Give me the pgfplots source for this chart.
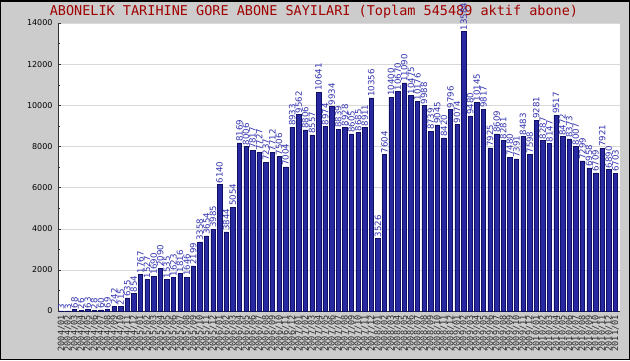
\documentclass[border=0pt]{standalone}
\usepackage{fontspec}
\setmainfont{DejaVu Sans}
\newfontfamily\monof{DejaVu Sans Mono}
\usepackage{pgfplots}
\pgfplotsset{compat=1.18}
\usetikzlibrary{backgrounds,calc}
\definecolor{bg}{RGB}{204,204,204}
\definecolor{barfill}{RGB}{40,40,160}
\definecolor{baredge}{RGB}{15,15,100}
\definecolor{lblblue}{RGB}{50,50,175}
\definecolor{titlered}{RGB}{160,0,0}
\begin{document}
\begin{tikzpicture}
\begin{axis}[name=ax, scale only axis,
  width=562pt, height=288pt,
  xmin=-0.5, xmax=84.7, ymin=0, ymax=14000,
  enlargelimits=false, clip=false,
  axis background/.style={fill=white},
  axis x line*=bottom, axis y line*=left,
  axis line style={-, draw=black!80},
  ytick={0,2000,...,14000}, minor ytick={1000,3000,...,13000},
  scaled y ticks=false,
  /pgf/number format/fixed, /pgf/number format/1000 sep={}, /pgf/number format/assume math mode=true,
  yticklabel style={font=\fontsize{8}{9}\selectfont, xshift=-2pt},
  ymajorgrids, major grid style={black!15},
  tick align=inside, major tick length=3pt, minor tick length=2pt,
  ytick style={black!80},
  xtick={0,...,84},
  xtick style={draw=none},
  xticklabels={2004/01,2004/02,2004/03,2004/04,2004/05,2004/06,2004/07,2004/08,2004/09,2004/10,2004/11,2004/12,
2005/01,2005/02,2005/03,2005/04,2005/05,2005/06,2005/07,2005/08,2005/09,2005/10,2005/11,2005/12,
2006/01,2006/02,2006/03,2006/04,2006/05,2006/06,2006/07,2006/08,2006/09,2006/10,2006/11,2006/12,
2007/01,2007/02,2007/03,2007/04,2007/05,2007/06,2007/07,2007/08,2007/09,2007/10,2007/11,2007/12,
2008/01,2008/02,2008/03,2008/04,2008/05,2008/06,2008/07,2008/08,2008/09,2008/10,2008/11,2008/12,
2009/01,2009/02,2009/03,2009/04,2009/05,2009/06,2009/07,2009/08,2009/09,2009/10,2009/11,2009/12,
2010/01,2010/02,2010/03,2010/04,2010/05,2010/06,2010/07,2010/08,2010/09,2010/10,2010/11,2010/12,
2011/01},
  xticklabel style={rotate=90, anchor=east, font=\monof\fontsize{8.6}{9}\selectfont, text=black!85, inner sep=1pt},
  ybar, bar width=4.4pt,
  nodes near coords={\pgfmathprintnumber[fixed,precision=0,1000 sep={}]{\pgfplotspointmeta}},
  nodes near coords style={rotate=90, anchor=west, inner sep=1pt, text=lblblue, font=\fontsize{8.6}{9}\selectfont},
]
\addplot[fill=barfill, draw=baredge, line width=0.5pt] coordinates {
(0,3) (1,3) (2,68) (3,26) (4,63) (5,28) (6,60) (7,69) (8,242) (9,215)
(10,635) (11,854) (12,1767) (13,1527) (14,1690) (15,2090) (16,1535) (17,1623) (18,1816) (19,1646)
(20,2199) (21,3358) (22,3654) (23,3985) (24,6140) (25,3844) (26,5054) (27,8169) (28,8006) (29,7817)
(30,7727) (31,7237) (32,7712) (33,7506) (34,7004) (35,8933) (36,9562) (37,8806) (38,8557) (39,10641)
(40,8974) (41,9934) (42,8839) (43,8928) (44,8605) (45,8685) (46,8911) (47,10356) (48,3526) (49,7604)
(50,10400) (51,10670) (52,11090) (53,10475) (54,10176) (55,9988) (56,8739) (57,9045) (58,8420) (59,9796)
(60,9074) (61,13584) (62,9480) (63,10145) (64,9817) (65,7925) (66,8609) (67,8281) (68,7480) (69,7391)
(70,8483) (71,7598) (72,9281) (73,8287) (74,8147) (75,9517) (76,8472) (77,8373) (78,8007) (79,7299)
(80,6958) (81,6709) (82,7921) (83,6890) (84,6703)
};
\coordinate (SW) at (rel axis cs:0,0);
\end{axis}
\coordinate (P0) at ($(SW)+(-58pt,-49pt)$);
\coordinate (P1) at ($(P0)+(630pt,360pt)$);
\begin{scope}[on background layer]
\fill[bg] (P0) rectangle (P1);
\draw[black, line width=1.5pt] ($(P0)+(0.75pt,0.75pt)$) rectangle ($(P1)+(-0.75pt,-0.75pt)$);
\node[text=titlered, font=\monof\fontsize{13.5}{14}\selectfont] at ($(P0)+(314pt,348pt)$) {ABONELIK TARIHINE GORE ABONE SAYILARI (Toplam 545489 aktif abone)};
\end{scope}
\pgfresetboundingbox
\useasboundingbox (P0) rectangle (P1);
\end{tikzpicture}
\end{document}
